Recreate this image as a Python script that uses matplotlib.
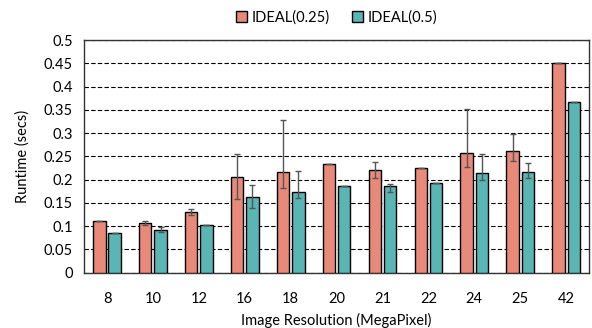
import numpy as np
import matplotlib
matplotlib.use("Agg")
import matplotlib.pyplot as plt

plt.rcParams['font.family'] = ['Lato', 'DejaVu Sans']

# data
resolutions = ['8', '10', '12', '16', '18', '20', '21', '22', '24', '25', '42']
ideal_025 = [0.111, 0.106, 0.130, 0.206, 0.217, 0.234, 0.220, 0.224, 0.257, 0.261, 0.450]
ideal_05 = [0.085, 0.092, 0.103, 0.163, 0.173, 0.187, 0.186, 0.192, 0.214, 0.216, 0.366]
err025_lo = [0.0, 0.004, 0.006, 0.048, 0.036, 0.0, 0.016, 0.0, 0.030, 0.022, 0.0]
err025_hi = [0.0, 0.004, 0.006, 0.049, 0.110, 0.0, 0.017, 0.0, 0.095, 0.038, 0.0]
err05_lo = [0.0, 0.005, 0.0, 0.025, 0.013, 0.0, 0.012, 0.0, 0.015, 0.012, 0.0]
err05_hi = [0.0, 0.005, 0.0, 0.025, 0.045, 0.0, 0.005, 0.0, 0.040, 0.020, 0.0]

red = '#E8897A'
teal = '#5AB5B5'

fig = plt.figure(figsize=(5.92, 3.28), dpi=100)
ax = fig.add_axes([0.142, 0.169, 0.853, 0.709])

x = np.arange(len(resolutions))
w = 0.27
off = 0.167
ax.bar(x - off, ideal_025, w, color=red, edgecolor='black', linewidth=1.0,
       yerr=[err025_lo, err025_hi], error_kw=dict(ecolor='#555555', elinewidth=1, capsize=2),
       label='IDEAL(0.25)', zorder=3)
ax.bar(x + off, ideal_05, w, color=teal, edgecolor='black', linewidth=1.0,
       yerr=[err05_lo, err05_hi], error_kw=dict(ecolor='#555555', elinewidth=1, capsize=2),
       label='IDEAL(0.5)', zorder=3)

ax.set_xlim(-0.5, len(resolutions) - 0.5)
ax.set_ylim(0, 0.5)
ax.set_yticks(np.arange(0, 0.501, 0.05))
ax.set_yticklabels(['0', '0.05', '0.1', '0.15', '0.2', '0.25', '0.3', '0.35', '0.4', '0.45', '0.5'])
ax.set_xticks(x)
ax.set_xticklabels(resolutions)
ax.yaxis.grid(True, linestyle=(0, (4, 2)), color='black', linewidth=0.8, zorder=0)
ax.set_axisbelow(True)
ax.tick_params(axis='y', length=0, labelsize=10.5, pad=8)
ax.tick_params(axis='x', length=0, labelsize=10.5, pad=14)
for s in ax.spines.values():
    s.set_color('#333333')
    s.set_linewidth(1.0)

ax.set_xlabel('Image Resolution (MegaPixel)', fontsize=10.5, labelpad=5)
ax.set_ylabel('Runtime (secs)', fontsize=10.5, labelpad=10)

ax.legend(loc='lower center', bbox_to_anchor=(0.5, 1.01), ncol=2, frameon=False,
          fontsize=10.5, handlelength=0.8, handleheight=0.8, columnspacing=1.5, handletextpad=0.3)

fig.savefig('out.png', dpi=100)
